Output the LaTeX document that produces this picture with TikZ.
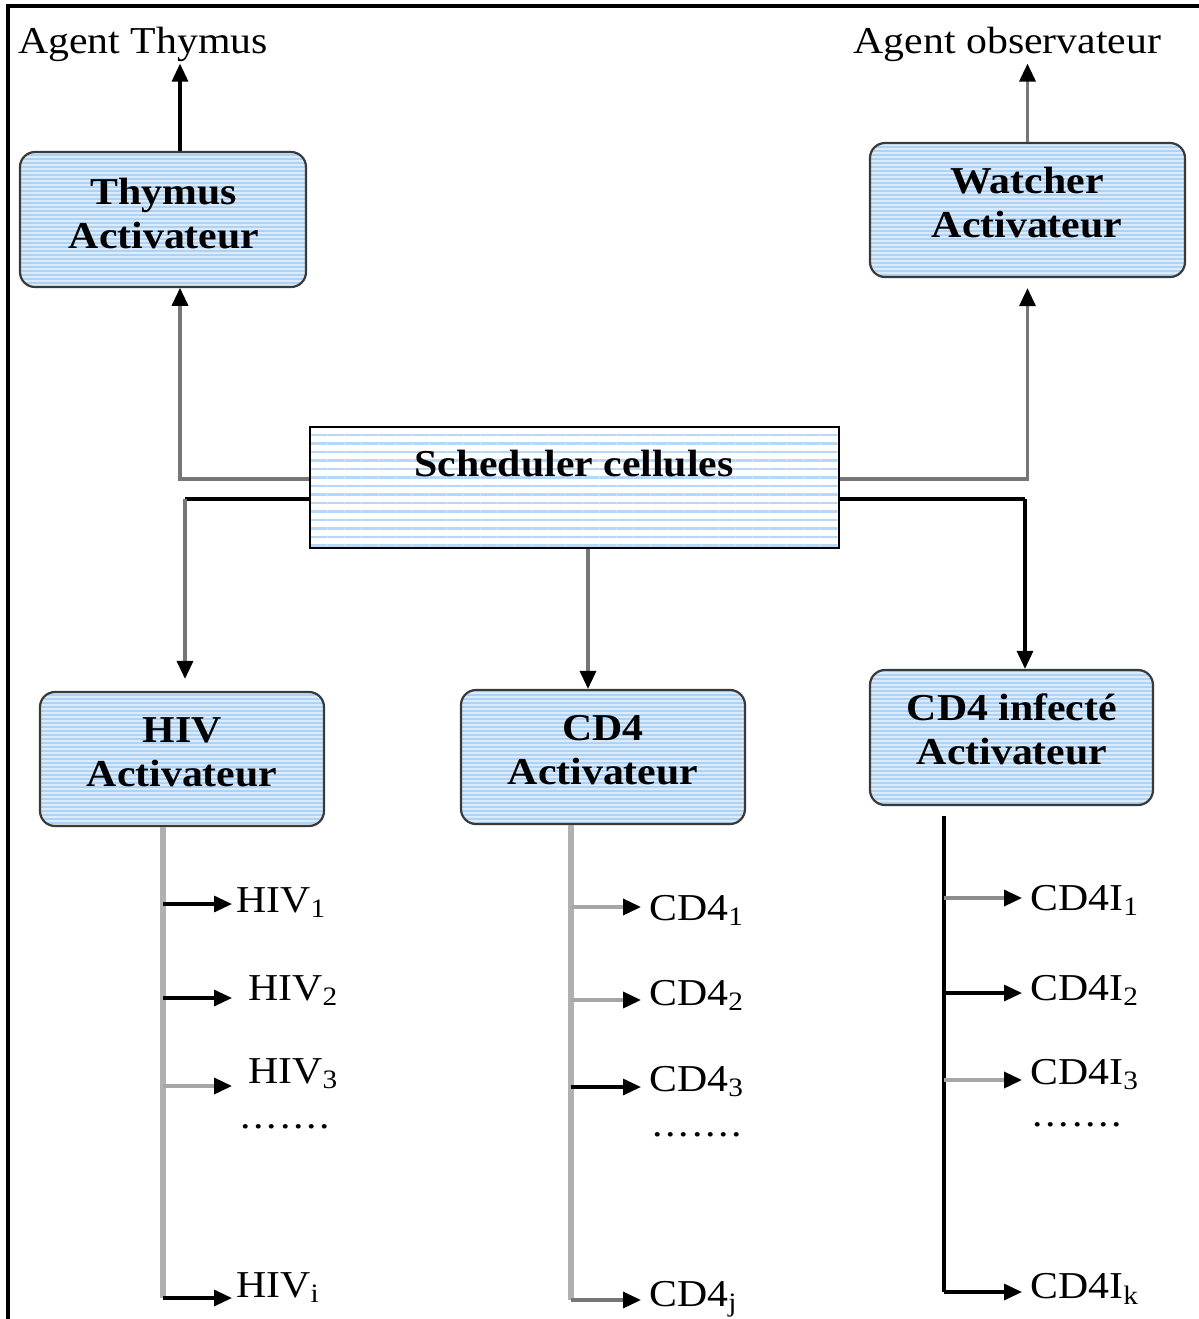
\documentclass[tikz,border=0pt]{standalone}
\usepackage{fontspec}
\setmainfont{Liberation Serif}[FakeStretch=1.1]
\usetikzlibrary{arrows.meta,patterns.meta,calc}

\definecolor{boxbg}{HTML}{DCEBFA}
\definecolor{boxstripe}{HTML}{AED2F3}
\definecolor{schedstripe}{HTML}{B6D8F6}
\definecolor{boxedge}{HTML}{3A3A3A}
\definecolor{linkgray}{HTML}{767676}
\definecolor{midgray}{HTML}{8C8C8C}
\definecolor{trunkgray}{HTML}{B0B0B0}
\definecolor{branchgray}{HTML}{A6A6A6}

% a row of spaced dots
\newcommand{\dotrow}{.\kern1.4pt.\kern1.4pt.\kern1.4pt.\kern1.4pt.\kern1.4pt.\kern1.4pt.}

\tikzset{
  activ/.style={draw=boxedge, line width=1.1pt, rounded corners=7.5pt,
    preaction={fill=boxbg}, pattern={Lines[distance=2pt,line width=0.8pt]},
    pattern color=boxstripe, inner sep=0pt},
  schedbox/.style={draw=black, line width=1.4pt,
    preaction={fill=white}, pattern={Lines[distance=4.25pt,line width=1.3pt]},
    pattern color=schedstripe, inner sep=0pt},
  boxtext/.style={font=\bfseries\fontsize{19pt}{22pt}\selectfont, align=center,
    anchor=base, inner sep=0pt},
  agent/.style={font=\fontsize{19pt}{22pt}\selectfont, anchor=base, inner xsep=0pt, inner ysep=1pt},
  item/.style={font=\fontsize{19pt}{22pt}\selectfont, anchor=base west, inner xsep=2pt, inner ysep=0pt},
  dotlabel/.style={font=\fontsize{19pt}{22pt}\selectfont, anchor=base west, inner sep=0pt},
  arrowed/.style={-{Triangle[length=9pt,width=8pt,color=black]}},
  glink/.style={draw=linkgray, line width=1.7pt},
  mlink/.style={draw=midgray, line width=1.7pt},
  blink/.style={draw=black, line width=1.6pt},
  trunk/.style={draw=trunkgray, line width=3pt},
  lgray/.style={draw=branchgray, line width=1.8pt},
}

\begin{document}
\begin{tikzpicture}[x=0.5pt, y=-0.5pt, line join=miter]
\useasboundingbox (0,0) rectangle (1199,1319);

% outer frame
\draw[line width=1.6pt] (8,1330) -- (8,6) -- (1210,6);

% boxes
\node[activ, minimum width=143pt, minimum height=67.5pt] (thy) at (163,219.5) {};
\node[activ, minimum width=157.5pt, minimum height=67pt] (watch) at (1027.5,210) {};
\node[schedbox, minimum width=264.5pt, minimum height=60.5pt] (sched) at (574.5,487.5) {};
\node[activ, minimum width=142pt, minimum height=67pt] (hiv) at (182,759) {};
\node[activ, minimum width=142pt, minimum height=67pt] (cd) at (603,757) {};
\node[activ, minimum width=141.5pt, minimum height=67.5pt] (cdi) at (1011.5,737.5) {};

% box texts (anchored on the baseline of the last line)
\node[boxtext] (thyT) at (164,248) {Thymus\\Activateur};
\node[boxtext] (watchT) at (1027,237) {Watcher\\Activateur};
\node[boxtext] (schedT) at (574,476) {Scheduler cellules};
\node[boxtext] (hivT) at (182,786) {HIV\\Activateur};
\node[boxtext] (cdT) at (603,784) {CD4\\Activateur};
\node[boxtext] (cdiT) at (1012,764) {CD4 infecté\\Activateur};

% agents
\node[agent] (agt) at (143,53) {Agent Thymus};
\node[agent] (obs) at (1007.5,53) {Agent observateur};

\draw[blink, arrowed] ([xshift=8.5pt]thy.north) -- ([xshift=8.5pt]thy.north |- agt.south);
\draw[glink, arrowed] (watch.north) -- (watch.north |- obs.south);

% scheduler links
\draw[glink, arrowed] ([yshift=4.25pt]sched.west) -| ([xshift=8.5pt]thy.south);
\draw[glink, arrowed] ([yshift=4.25pt]sched.east) -| ([yshift=-5pt]watch.south);
\coordinate (llc) at (185,499);
\coordinate (lrc) at (1025,499);
\draw[blink] ([yshift=-5.75pt]sched.west) -- (llc);
\draw[glink, arrowed] (llc) -- ($(llc |- hiv.north)+(0,-12)$);
\draw[blink] ([yshift=-5.75pt]sched.east) -- (lrc);
\draw[blink, arrowed] (lrc) -- (lrc |- cdi.north);
\draw[glink, arrowed] ([xshift=6.75pt]sched.south) -- ([xshift=-7.5pt]cd.north);

% HIV column
\coordinate (hb1) at (163,904);
\coordinate (hb2) at (163,998);
\coordinate (hb3) at (163,1086);
\coordinate (hb4) at (163,1298);
\node[item] (hiv1) at (232,912) {HIV\textsubscript{1}};
\node[item, inner xsep=8pt] (hiv2) at (232,1000) {HIV\textsubscript{2}};
\node[item, inner xsep=8pt] (hiv3) at (232,1083) {HIV\textsubscript{3}};
\node[dotlabel] (hivd) at (240,1128) {\dotrow};
\node[item] (hivi) at (232,1297) {HIV\textsubscript{i}};
\draw[trunk] (hiv.south -| hb1) -- (hb4);
\draw[blink, arrowed] (hb1) -- (hb1 -| hiv1.west);
\draw[blink, arrowed] (hb2) -- (hb2 -| hiv2.west);
\draw[lgray, arrowed] (hb3) -- (hb3 -| hiv3.west);
\draw[blink, arrowed] (hb4) -- (hb4 -| hivi.west);

% CD4 column
\coordinate (cb1) at (571,907);
\coordinate (cb2) at (571,1000);
\coordinate (cb3) at (571,1087);
\coordinate (cb4) at (571,1300);
\node[item, inner xsep=4pt] (cd1) at (641,920) {CD4\textsubscript{1}};
\node[item, inner xsep=4pt] (cd2) at (641,1005) {CD4\textsubscript{2}};
\node[item, inner xsep=4pt] (cd3) at (641,1091) {CD4\textsubscript{3}};
\node[dotlabel] (cdd) at (652,1136) {\dotrow};
\node[item, inner xsep=4pt] (cdj) at (641,1306) {CD4\textsubscript{j}};
\draw[trunk] (cd.south -| cb1) -- (cb4);
\draw[lgray, arrowed] (cb1) -- (cb1 -| cd1.west);
\draw[lgray, arrowed] (cb2) -- (cb2 -| cd2.west);
\draw[blink, arrowed] (cb3) -- (cb3 -| cd3.west);
\draw[glink, arrowed] (cb4) -- (cb4 -| cdj.west);

% infected CD4 column
\coordinate (ib1) at (944,898);
\coordinate (ib2) at (944,993);
\coordinate (ib3) at (944,1080);
\coordinate (ib4) at (944,1292);
\node[item, inner xsep=4pt] (ci1) at (1022,910) {CD4I\textsubscript{1}};
\node[item, inner xsep=4pt] (ci2) at (1022,1000) {CD4I\textsubscript{2}};
\node[item, inner xsep=4pt] (ci3) at (1022,1084) {CD4I\textsubscript{3}};
\node[dotlabel] (cid) at (1032,1126) {\dotrow};
\node[item, inner xsep=4pt] (cik) at (1022,1298) {CD4I\textsubscript{k}};
\draw[blink] ($(cdi.south -| ib1)+(0,10)$) -- (ib4);
\draw[mlink, arrowed] (ib1) -- (ib1 -| ci1.west);
\draw[blink, arrowed] (ib2) -- (ib2 -| ci2.west);
\draw[lgray, arrowed] (ib3) -- (ib3 -| ci3.west);
\draw[blink, arrowed] (ib4) -- (ib4 -| cik.west);
\end{tikzpicture}
\end{document}
